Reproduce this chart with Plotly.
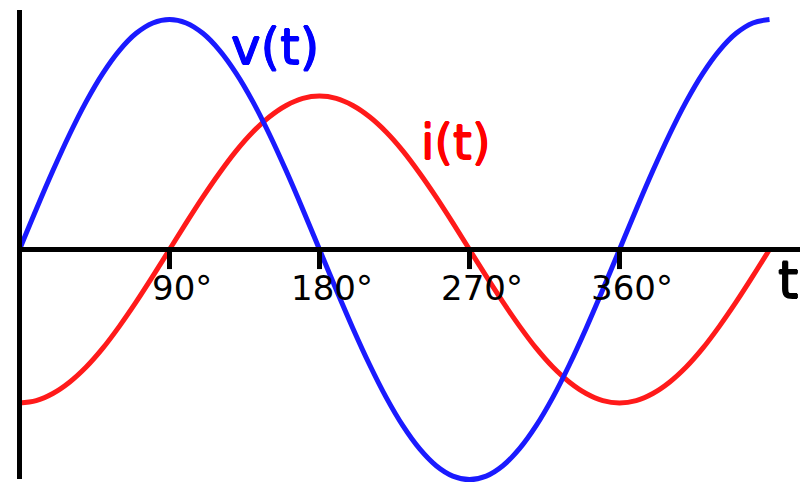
import plotly.graph_objects as go

# Phase angle samples (degrees)
angle_deg = list(range(0, 451, 10))
# Voltage v(t) (peak = 1)
v_values = [0, 0.174, 0.342, 0.5, 0.643, 0.766, 0.866, 0.940, 0.985, 1,
            0.985, 0.940, 0.866, 0.766, 0.643, 0.5, 0.342, 0.174, 0,
            -0.174, -0.342, -0.5, -0.643, -0.766, -0.866, -0.940, -0.985, -1,
            -0.985, -0.940, -0.866, -0.766, -0.643, -0.5, -0.342, -0.174, 0,
            0.174, 0.342, 0.5, 0.643, 0.766, 0.866, 0.940, 0.985, 1]
# Current i(t), lagging 90°
i_values = [-0.667, -0.657, -0.626, -0.577, -0.511, -0.429, -0.333, -0.228, -0.116, 0,
            0.116, 0.228, 0.333, 0.429, 0.511, 0.577, 0.626, 0.657, 0.667,
            0.657, 0.626, 0.577, 0.511, 0.429, 0.333, 0.228, 0.116, 0,
            -0.116, -0.228, -0.333, -0.429, -0.511, -0.577, -0.626, -0.657, -0.667,
            -0.657, -0.626, -0.577, -0.511, -0.429, -0.333, -0.228, -0.116, 0]
tick_values = [90, 180, 270, 360]
tick_labels = ["90°", "180°", "270°", "360°"]

FONT = "DejaVu Sans"


def heavy(color):
    d = 0.7
    return (f"{d}px 0 0 {color}, -{d}px 0 0 {color}, 0 {d}px 0 {color}, 0 -{d}px 0 {color}")


fig = go.Figure()
fig.add_trace(go.Scatter(x=angle_deg, y=i_values, mode="lines",
                         line=dict(color="rgb(255,26,26)", width=5, shape="spline", smoothing=1),
                         hoverinfo="skip", showlegend=False))
fig.add_trace(go.Scatter(x=angle_deg, y=v_values, mode="lines",
                         line=dict(color="rgb(26,26,255)", width=5, shape="spline", smoothing=1),
                         hoverinfo="skip", showlegend=False))

shapes = [
    # horizontal axis
    dict(type="line", xref="x", yref="y", x0=0, x1=480, y0=0, y1=0,
         line=dict(color="black", width=5), layer="above"),
    # vertical axis
    dict(type="line", xref="x", yref="y", x0=0, x1=0, y0=-0.998, y1=1.041,
         line=dict(color="black", width=5), layer="above"),
]
for tv in tick_values:
    shapes.append(dict(type="line", xref="x", yref="y", x0=tv, x1=tv, y0=0, y1=-0.085,
                       line=dict(color="black", width=5), layer="above"))

annotations = []
for tv, tl in zip(tick_values, tick_labels):
    annotations.append(dict(x=tv, y=0, xref="x", yref="y", text=tl, showarrow=False,
                            xanchor="center", yanchor="top", xshift=12, yshift=-16,
                            font=dict(family=FONT, size=34, color="black")))
annotations += [
    dict(x=229 / 800, y=1 - 15.5 / 500, xref="paper", yref="paper", text="v(t)",
         showarrow=False, xanchor="left", yanchor="top",
         font=dict(family=FONT, size=50, color="#0000ff", shadow=heavy("#0000ff"))),
    dict(x=419 / 800, y=1 - 112 / 500, xref="paper", yref="paper", text="i(t)",
         showarrow=False, xanchor="left", yanchor="top",
         font=dict(family=FONT, size=48, color="#ff0000", shadow=heavy("#ff0000"))),
    dict(x=776 / 800, y=1 - 247.5 / 500, xref="paper", yref="paper", text="t",
         showarrow=False, xanchor="left", yanchor="top",
         font=dict(family=FONT, size=52, color="black", shadow=heavy("#000000"))),
]

fig.update_layout(
    width=800, height=500,
    margin=dict(l=0, r=0, t=0, b=0),
    paper_bgcolor="white", plot_bgcolor="white",
    xaxis=dict(range=[-11.7, 468.3], visible=False, fixedrange=True),
    yaxis=dict(range=[-1.0891, 1.0848], visible=False, fixedrange=True),
    shapes=shapes, annotations=annotations,
)

fig.write_html("out.html", config={"displayModeBar": False},
               post_script="document.body.style.margin='0';")
